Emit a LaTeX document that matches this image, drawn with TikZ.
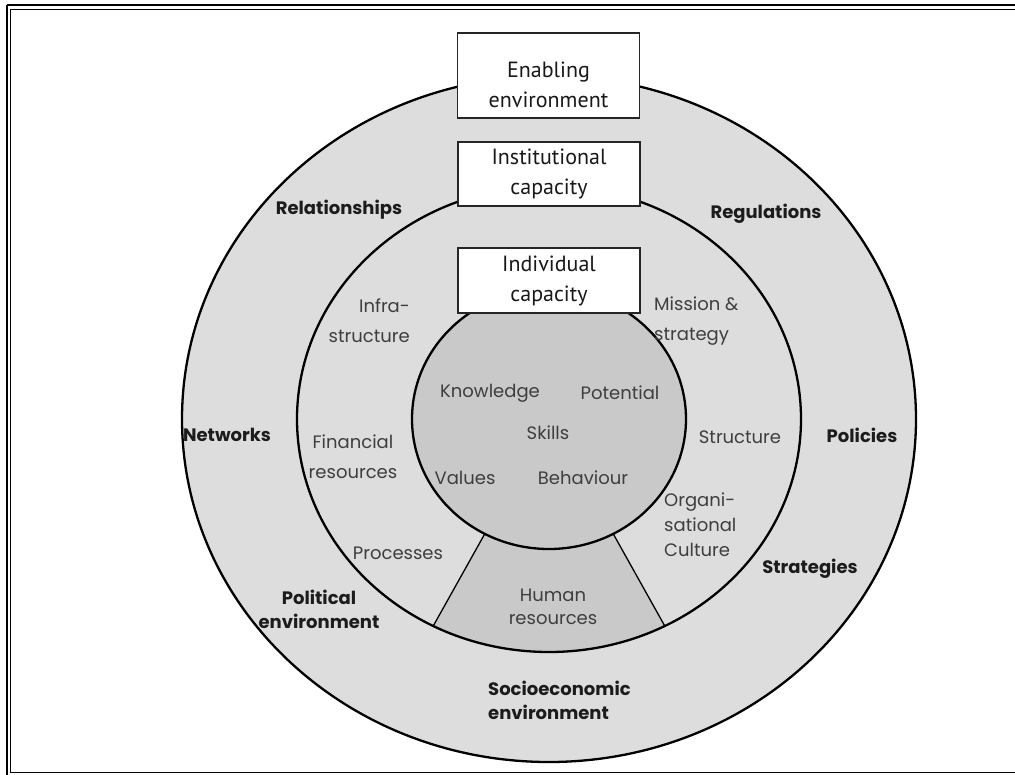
\documentclass[tikz,border=0pt]{standalone}
\usepackage{fontspec}
\setmainfont{Poppins}
\newfontfamily\boxfont{PT Sans}
\definecolor{ringgray}{RGB}{221,221,221}
\definecolor{coregray}{RGB}{201,201,201}
\definecolor{lbldark}{RGB}{28,28,28}
\definecolor{lblgray}{RGB}{62,62,62}
\begin{document}
\begin{tikzpicture}[x=1pt,y=-1pt,
  ringline/.style={draw=black, line width=2.3pt},
  capbox/.style={draw=black!85, fill=white, line width=1.4pt, minimum width=182pt, inner sep=0pt},
  captext/.style={font=\boxfont\fontsize{22}{30}\selectfont, text=black!90, align=center, inner sep=0pt},
  outerlbl/.style={font=\bfseries\fontsize{18}{24}\selectfont, text=lbldark, inner sep=0pt},
  innerlbl/.style={font=\fontsize{18}{30}\selectfont, text=lblgray, inner sep=0pt}]
\useasboundingbox (0,0) rectangle (1015,774);
% frame
\draw[line width=2pt] (7,5) -- (1020,5);
\draw[line width=2pt] (7,5) -- (7,780);
\draw[line width=0.9pt] (10,9) -- (1020,9);
\draw[line width=0.9pt] (10,9) -- (10,772.5) -- (1020,772.5);
% rings
\coordinate (c) at (549,419);
\filldraw[ringline, fill=ringgray] (c) ellipse [x radius=367pt, y radius=343pt];
\fill[ringgray] (c) ellipse [x radius=252pt, y radius=233pt];
\begin{scope}
  \clip (c) ellipse [x radius=252pt, y radius=233pt];
  \coordinate (hl) at (351,773);
  \coordinate (hr) at (747,773);
  \fill[coregray] (c) -- (hl) -- (hr) -- cycle;
  \draw[line width=1.3pt] (c) -- (hl);
  \draw[line width=1.3pt] (c) -- (hr);
\end{scope}
\draw[ringline] (c) ellipse [x radius=252pt, y radius=233pt];
\filldraw[ringline, fill=coregray] (c) ellipse [x radius=137pt, y radius=130pt];
% boxes
\node[capbox, minimum height=85pt] (enab) at (548.5,75.5) {};
\node[captext] (enabt) at (548.5,85) {Enabling\\environment};
\node[capbox, minimum height=64pt] (inst) at (549,174) {};
\node[captext] (instt) at (549,174) {Institutional\\capacity};
\node[capbox, minimum height=65pt] (indiv) at (549,280.5) {};
\node[captext] (indivt) at (549,281) {Individual\\capacity};
% outer ring labels
\node[outerlbl] (rel) at (339,210) {Relationships};
\node[outerlbl] (reg) at (766,214) {Regulations};
\node[outerlbl] (net) at (227,435) {Networks};
\node[outerlbl] (pol) at (862,435) {Policies};
\node[outerlbl] (strat) at (810,569) {Strategies};
\node[outerlbl, align=center] (polenv) at (319,609) {Political\\environment};
\node[outerlbl, align=left, anchor=west] (socio) at (488,700) {Socioeconomic\\environment};
% institutional ring labels
\node[innerlbl, align=right, anchor=east] (infra) at (410,321) {Infra-\\structure};
\node[innerlbl, align=left, anchor=west] (mission) at (654,321) {Mission \&\\strategy};
\node[innerlbl, align=center] (fin) at (353,457) {Financial\\resources};
\node[innerlbl] (struc) at (740,437) {Structure};
\node[innerlbl, align=left, anchor=west, font=\fontsize{18}{25}\selectfont] (org) at (664,525) {Organi-\\sational\\Culture};
\node[innerlbl] (proc) at (398,553) {Processes};
\node[innerlbl, align=center, font=\fontsize{18}{23}\selectfont] (hum) at (553,607) {Human\\resources};
% individual labels
\node[innerlbl] (know) at (490,393) {Knowledge};
\node[innerlbl] (pot) at (620,393) {Potential};
\node[innerlbl] (skill) at (548,433) {Skills};
\node[innerlbl] (val) at (465,478) {Values};
\node[innerlbl] (beh) at (583,478) {Behaviour};
\end{tikzpicture}
\end{document}
